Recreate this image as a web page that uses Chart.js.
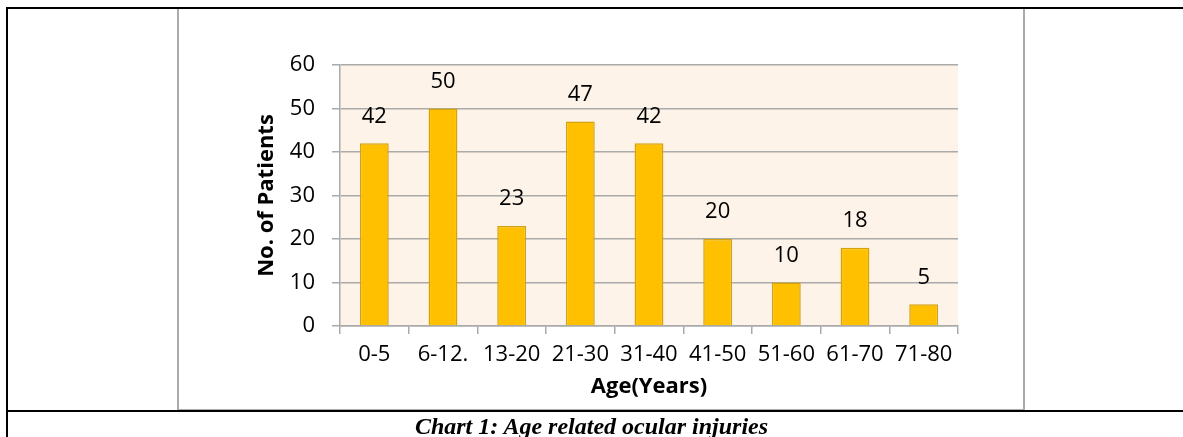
<!DOCTYPE html>
<html>
<head>
<meta charset="utf-8">
<script src="https://cdn.jsdelivr.net/npm/chart.js@4.4.1/dist/chart.umd.min.js"></script>
<style>
  html, body { margin: 0; padding: 0; background: #ffffff; }
  body { width: 1183px; height: 437px; position: relative; overflow: hidden; }
  #c { position: absolute; left: 0; top: 0; }
  .ln { position: absolute; }
  #caption { position: absolute; left: 0; width: 1183px; top: 413px; text-align: center;
    font-family: "Liberation Serif", "Times New Roman", serif; font-weight: bold; font-style: italic;
    font-size: 24px; line-height: 26px; color: #000; white-space: nowrap; }
</style>
</head>
<body>
<canvas id="c" width="1183" height="437"></canvas>
<div class="ln" style="left:6px;top:7px;width:1177px;height:2px;background:#000"></div>
<div class="ln" style="left:6px;top:7px;width:2px;height:430px;background:#000"></div>
<div class="ln" style="left:177px;top:9px;width:2px;height:401px;background:#aaa"></div>
<div class="ln" style="left:1023px;top:9px;width:2px;height:401px;background:#aaa"></div>
<div class="ln" style="left:178px;top:409px;width:846px;height:1px;background:#aaa"></div>
<div class="ln" style="left:6px;top:410px;width:1177px;height:2px;background:#000"></div>
<div id="caption">Chart 1: Age related ocular injuries</div>
<script>
const categories = ["0-5", "6-12.", "13-20", "21-30", "31-40", "41-50", "51-60", "61-70", "71-80"];
const patients = [42, 50, 23, 47, 42, 20, 10, 18, 5];
const yTicks = [0, 10, 20, 30, 40, 50, 60];
const xTitle = "Age(Years)";
const yTitle = "No. of Patients";

const FONT = '"Open Sans", "Liberation Sans", sans-serif';

const plotBg = {
  id: 'plotBg',
  beforeDraw(chart) {
    const {ctx, chartArea: a} = chart;
    ctx.save();
    ctx.fillStyle = '#fef3e9';
    ctx.fillRect(a.left, a.top, a.right - a.left, a.bottom - a.top);
    ctx.restore();
  }
};

const valueLabels = {
  id: 'valueLabels',
  afterDatasetsDraw(chart) {
    const {ctx} = chart;
    const meta = chart.getDatasetMeta(0);
    ctx.save();
    ctx.fillStyle = '#000';
    ctx.font = '22px ' + FONT;
    ctx.textAlign = 'center';
    ctx.textBaseline = 'middle';
    meta.data.forEach((bar, i) => {
      ctx.fillText(String(chart.data.datasets[0].data[i]), bar.x, bar.y - 27);
    });
    ctx.restore();
  }
};

new Chart(document.getElementById('c'), {
  type: 'bar',
  data: {
    labels: categories,
    datasets: [{
      data: patients,
      backgroundColor: '#ffc000',
      borderColor: '#d4a20a',
      borderWidth: 1.5,
      barPercentage: 0.84,
      categoryPercentage: 0.5
    }]
  },
  options: {
    responsive: false,
    animation: false,
    devicePixelRatio: 1,
    layout: { padding: { left: 254, top: 65, right: 225, bottom: 31 } },
    plugins: { legend: { display: false }, tooltip: { enabled: false } },
    scales: {
      x: {
        offset: true,
        afterFit(s) { s.height = 80; },
        grid: { offset: true, drawOnChartArea: false, drawTicks: true, tickLength: 8, color: '#aaa', lineWidth: 1.5 },
        border: { color: '#aaa', width: 1.5 },
        ticks: { color: '#000', font: { family: FONT, size: 22 }, padding: 8, maxRotation: 0, autoSkip: false },
        title: { display: true, text: xTitle, color: '#000', font: { family: FONT, size: 22, weight: 'bold' }, padding: { top: 0, bottom: 6 } }
      },
      y: {
        min: 0, max: 60,
        afterFit(s) { s.width = 86; },
        afterBuildTicks(s) { s.ticks = yTicks.map(v => ({ value: v })); },
        grid: { color: '#aaa', lineWidth: 1.5, tickLength: 8 },
        border: { color: '#aaa', width: 1.5 },
        ticks: { color: '#000', font: { family: FONT, size: 22 }, padding: 17 },
        title: { display: true, text: yTitle, color: '#000', font: { family: FONT, size: 22, weight: 'bold' }, padding: { top: 0, bottom: 0 } }
      }
    }
  },
  plugins: [plotBg, valueLabels]
});
</script>
</body>
</html>
